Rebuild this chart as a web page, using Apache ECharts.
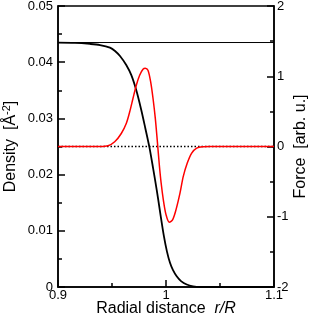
<!DOCTYPE html>
<html><head><meta charset="utf-8">
<script src="https://cdn.jsdelivr.net/npm/echarts@6/dist/echarts.min.js"></script>
<style>html,body{margin:0;padding:0;background:#fff}#c{width:311px;height:320px}</style>
</head><body><div id="c"></div>
<script>
// Density profile (r/R, density in Å^-2)
const densityR = [0.9, 0.9157, 0.9296, 0.9389, 0.9481, 0.9528, 0.9574, 0.9632, 0.9679, 0.9725, 0.9771, 0.9808, 0.9847, 0.9880, 0.9914, 0.9944, 0.9981, 1.0009, 1.0037, 1.0065, 1.0099, 1.0139, 1.0192, 1.0250, 1.0315, 1.1];
const densityV = [0.04348, 0.04343, 0.04325, 0.04305, 0.0426, 0.0420, 0.0411, 0.0395, 0.0377, 0.0350, 0.0315, 0.0283, 0.0248, 0.0212, 0.0173, 0.0135, 0.0090, 0.0063, 0.0043, 0.0030, 0.0019, 0.00105, 0.00044, 0.00012, 0, 0];
// Force (arb. u.)
const forceR = [0.9, 0.9389, 0.9463, 0.9525, 0.9586, 0.9632, 0.9664, 0.9694, 0.9725, 0.9756, 0.9787, 0.9808, 0.9833, 0.9858, 0.9880, 0.9901, 0.9920, 0.9938, 0.9955, 0.9975, 1.0000, 1.0031, 1.0062, 1.0093, 1.0130, 1.0160, 1.0197, 1.0238, 1.0284, 1.0345, 1.0407, 1.1];
const forceV = [0, 0, 0.01, 0.067, 0.185, 0.327, 0.494, 0.683, 0.873, 1.015, 1.100, 1.115, 1.086, 0.920, 0.683, 0.40, 0.07, -0.26, -0.52, -0.756, -0.969, -1.079, -1.040, -0.898, -0.661, -0.426, -0.235, -0.093, -0.022, -0.003, 0, 0];
// Reference lines
const bulkDensity = 0.0435;
const zeroForce = 0;
const xRange = [0.9, 1.1];

const chart = echarts.init(document.getElementById('c'));
const font = 'Liberation Sans, Arial, sans-serif';
const axisCommon = {
  axisLine: {show: true, onZero: false, lineStyle: {color: '#000', width: 1.5}},
  axisTick: {show: true, inside: true, length: 7, lineStyle: {color: '#000', width: 1.5}},
  minorTick: {show: true, splitNumber: 2, length: 4, lineStyle: {color: '#000', width: 1.5}},
  splitLine: {show: false},
  axisLabel: {color: '#000', fontSize: 13, fontFamily: font},
  nameMoveOverlap: false,
  nameTextStyle: {color: '#000', fontSize: 16, fontFamily: font}
};
chart.setOption({
  animation: false,
  grid: {left: 58, right: 37, top: 6, bottom: 33, containLabel: false, outerBoundsMode: 'none', show: true, borderColor: '#000', borderWidth: 1.5},
  xAxis: Object.assign({}, axisCommon, {
    type: 'value', min: 0.9, max: 1.1, interval: 0.1,
    axisLabel: Object.assign({}, axisCommon.axisLabel, {margin: 2}),
    name: 'Radial distance  {i|r/R}', nameLocation: 'middle', nameGap: 14,
    nameTextStyle: Object.assign({}, axisCommon.nameTextStyle, {rich: {i: {fontStyle: 'italic', fontSize: 16, fontFamily: font, color: '#000'}}})
  }),
  yAxis: [
    Object.assign({}, axisCommon, {
      type: 'value', min: 0, max: 0.05, interval: 0.01, position: 'left',
      axisLabel: Object.assign({}, axisCommon.axisLabel, {margin: 5}),
      name: 'Density  [Å{sup|-2}]', nameLocation: 'middle', nameGap: 38, nameRotate: 90,
      nameTextStyle: Object.assign({}, axisCommon.nameTextStyle, {rich: {sup: {fontSize: 11, fontFamily: font, color: '#000', verticalAlign: 'top', padding: [0, 0, 8, 0]}}})
    }),
    Object.assign({}, axisCommon, {
      type: 'value', min: -2, max: 2, interval: 1, position: 'right',
      axisLabel: Object.assign({}, axisCommon.axisLabel, {margin: 3}),
      name: 'Force  [arb. u.]', nameLocation: 'middle', nameGap: 19, nameRotate: 90
    })
  ],
  series: [
    {type: 'line', yAxisIndex: 0, symbol: 'none', silent: true,
     data: xRange.map(x => [x, bulkDensity]), lineStyle: {color: '#000', width: 1}},
    {type: 'line', yAxisIndex: 1, symbol: 'none', silent: true,
     data: xRange.map(x => [x, zeroForce]), lineStyle: {color: '#000', width: 1.5, type: [1.5, 2]}},
    {type: 'line', yAxisIndex: 0, symbol: 'none', smooth: 0.3,
     data: densityR.map((r, i) => [r, densityV[i]]), lineStyle: {color: '#000', width: 1.8}},
    {type: 'line', yAxisIndex: 1, symbol: 'none', smooth: 0.3,
     data: forceR.map((r, i) => [r, forceV[i]]), lineStyle: {color: '#ff0000', width: 1.5}}
  ]
});
</script></body></html>
